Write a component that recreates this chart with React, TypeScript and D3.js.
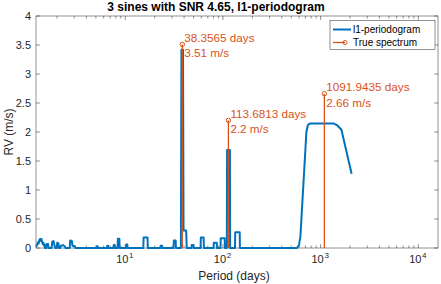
import React from "react";
import * as d3 from "d3";

// l1-periodogram (period in days, RV in m/s)
const l1Periods = [
  1.219, 1.25, 1.28, 1.3, 1.32, 1.35, 1.37, 1.39, 1.41, 1.43, 1.45, 1.47, 1.49, 1.51,
  1.55, 1.57, 1.62, 1.64,
  1.76, 1.79, 1.84, 1.88, 1.92,
  1.99, 2.01, 2.07, 2.09,
  2.16, 2.19, 2.3, 2.4, 2.45,
  2.7, 2.73, 2.84, 2.88, 3.05, 3.09,
  5.1, 5.13, 5.22, 5.25,
  6.5, 6.55, 6.68, 6.73,
  7.57, 7.62, 7.8, 7.85,
  8.35, 8.4, 8.7, 8.75,
  10.17, 10.22, 10.5, 10.55,
  15.3, 15.4, 16.9, 17.0,
  22.9, 23.0, 23.8, 23.9,
  31.2, 31.4, 32.8, 33.0,
  37.1, 37.6, 39.0, 39.5, 42.0, 42.6,
  47.6, 47.9, 50.0, 50.3,
  59.0, 59.4, 63.4, 63.8,
  80.2, 80.6, 86.4, 86.8,
  94.4, 94.9, 104.2, 104.8,
  109.6, 110.2, 117.8, 118.4,
  132.8, 133.6, 148.4, 149.2,
  572, 600, 621, 715, 741, 777, 1368, 1469, 1633, 2076,
];
const l1Values = [
  0.02, 0.05, 0.1, 0.08, 0.14, 0.16, 0.12, 0.15, 0.1, 0.07, 0.09, 0.04, 0.06, 0,
  0, 0.07, 0.07, 0,
  0, 0.11, 0.12, 0.05, 0,
  0, 0.09, 0.08, 0,
  0, 0.04, 0.05, 0.03, 0,
  0, 0.13, 0.12, 0.04, 0.03, 0,
  0, 0.03, 0.03, 0,
  0, 0.04, 0.04, 0,
  0, 0.05, 0.05, 0,
  0, 0.16, 0.16, 0,
  0, 0.06, 0.06, 0,
  0, 0.18, 0.18, 0,
  0, 0.04, 0.04, 0,
  0, 0.13, 0.13, 0,
  0, 3.42, 3.42, 0.3, 0.3, 0,
  0, 0.05, 0.05, 0,
  0, 0.18, 0.18, 0,
  0, 0.09, 0.09, 0,
  0, 0.17, 0.17, 0,
  0, 1.69, 1.69, 0,
  0, 0.27, 0.27, 0,
  0, 0.05, 0.2, 2.0, 2.12, 2.145, 2.145, 2.12, 2.04, 1.28,
];

// true spectrum
const truePeriods = [38.3565, 113.6813, 1091.9435];
const trueAmps = [3.51, 2.2, 2.66];
const trueLabels = [
  ["38.3565 days", "3.51 m/s"],
  ["113.6813 days", "2.2 m/s"],
  ["1091.9435 days", "2.66 m/s"],
];

const yTicks = [0, 0.5, 1, 1.5, 2, 2.5, 3, 3.5, 4];
const xMajor = [10, 100, 1000, 10000];
const xMajorExp = ["1", "2", "3", "4"];

const BLUE = "#0072BD";
const ORANGE = "#D95319";
const AX = "#262626";
const FONT = "'Liberation Sans', Arial, Helvetica, sans-serif";

export default function App() {
  const W = 441;
  const H = 284;
  const left = 36;
  const right = 438;
  const top = 16;
  const bottom = 248;

  const x = d3.scaleLog().domain([1.219, 15910]).range([left, right]);
  const y = d3.scaleLinear().domain([0, 4]).range([bottom, top]);

  const minor: number[] = [];
  [1, 10, 100, 1000, 10000].forEach((dec) => {
    for (let m = 1; m <= 9; m++) {
      const v = m * dec;
      if (v >= 1.219 && v <= 15910 && !xMajor.includes(v)) minor.push(v);
    }
  });

  const pts: [number, number][] = l1Periods.map((p, i) => [p, l1Values[i]]);
  const line = d3
    .line<[number, number]>()
    .x((d) => x(d[0]))
    .y((d) => y(d[1]));

  return (
    <svg
      width={W}
      height={H}
      style={{ position: "absolute", left: 0, top: 0, background: "#fff" }}
      fontFamily={FONT}
    >
      <rect x={0} y={0} width={W} height={H} fill="#fff" />

      {/* title */}
      <text x={216} y={11} textAnchor="middle" fontSize={12} fontWeight="bold" fill="#000">
        3 sines with SNR 4.65, l1-periodogram
      </text>

      {/* axes box */}
      <rect
        x={left}
        y={top}
        width={right - left}
        height={bottom - top}
        fill="none"
        stroke={AX}
        strokeWidth={0.5}
      />

      {/* y ticks */}
      {yTicks.map((t) => (
        <g key={"y" + t}>
          <line x1={left} x2={left + 4} y1={y(t)} y2={y(t)} stroke={AX} strokeWidth={0.5} />
          <line x1={right} x2={right - 4} y1={y(t)} y2={y(t)} stroke={AX} strokeWidth={0.5} />
          <text x={31} y={y(t) + 4} textAnchor="end" fontSize={11} fill={AX}>
            {String(t)}
          </text>
        </g>
      ))}

      {/* x ticks */}
      {minor.map((t) => (
        <g key={"m" + t}>
          <line x1={x(t)} x2={x(t)} y1={bottom} y2={bottom - 2.5} stroke={AX} strokeWidth={0.5} />
          <line x1={x(t)} x2={x(t)} y1={top} y2={top + 2.5} stroke={AX} strokeWidth={0.5} />
        </g>
      ))}
      {xMajor.map((t, i) => (
        <g key={"M" + t}>
          <line x1={x(t)} x2={x(t)} y1={bottom} y2={bottom - 4} stroke={AX} strokeWidth={0.5} />
          <line x1={x(t)} x2={x(t)} y1={top} y2={top + 4} stroke={AX} strokeWidth={0.5} />
          <text x={x(t) - 3} y={263} textAnchor="middle" fontSize={11} fill={AX}>
            10
          </text>
          <text x={x(t) + 6} y={257.5} textAnchor="middle" fontSize={8} fill={AX}>
            {xMajorExp[i]}
          </text>
        </g>
      ))}

      {/* axis labels */}
      <text x={234} y={280} textAnchor="middle" fontSize={12} fill={AX}>
        Period (days)
      </text>
      <text
        transform={`translate(13,${(top + bottom) / 2}) rotate(-90)`}
        textAnchor="middle"
        fontSize={12}
        fill={AX}
      >
        RV (m/s)
      </text>

      {/* l1-periodogram */}
      <path d={line(pts) || ""} fill="none" stroke={BLUE} strokeWidth={2} strokeLinejoin="round" />

      {/* true spectrum stems */}
      {truePeriods.map((p, i) => (
        <g key={"s" + i}>
          <line
            x1={x(p)}
            x2={x(p)}
            y1={y(0)}
            y2={y(trueAmps[i])}
            stroke={ORANGE}
            strokeWidth={1.3}
          />
          <circle cx={x(p)} cy={y(trueAmps[i])} r={2.2} fill="none" stroke={ORANGE} strokeWidth={1} />
          <text x={x(p) + 2} y={y(trueAmps[i]) - 2.6} fontSize={11.7} fill={ORANGE}>
            {trueLabels[i][0]}
          </text>
          <text x={x(p) + 2} y={y(trueAmps[i]) + 13} fontSize={11.7} fill={ORANGE}>
            {trueLabels[i][1]}
          </text>
        </g>
      ))}

      {/* legend */}
      <g>
        <rect x={330} y={20.5} width={105} height={29} fill="#fff" stroke={AX} strokeWidth={0.5} />
        <line x1={333} x2={351} y1={29.5} y2={29.5} stroke={BLUE} strokeWidth={2} />
        <text x={353} y={33} fontSize={10} fill="#000">
          l1-periodogram
        </text>
        <line x1={333} x2={345} y1={42.5} y2={42.5} stroke={ORANGE} strokeWidth={1.3} />
        <circle cx={345} cy={42.5} r={2} fill="none" stroke={ORANGE} strokeWidth={1} />
        <text x={353} y={46} fontSize={10} fill="#000">
          True spectrum
        </text>
      </g>
    </svg>
  );
}
